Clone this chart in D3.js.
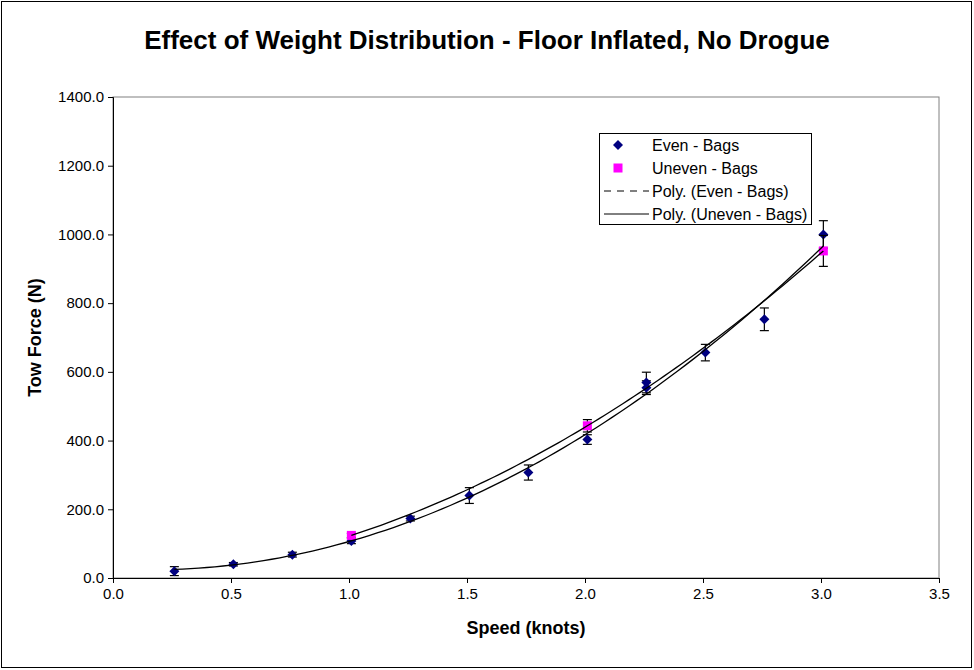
<!DOCTYPE html>
<html lang="en">
<head>
  <meta charset="UTF-8">
  <title>Effect of Weight Distribution - Floor Inflated, No Drogue</title>
  <script src="https://d3js.org/d3.v7.min.js"></script>
  <style>
    body { margin: 0; background: #fff; }
    svg { display: block; font-family: "Liberation Sans", Arial, sans-serif; }
  </style>
</head>
<body>
<svg id="chart" width="974" height="670"></svg>
<script>
  // Données
  const speedEven = [0.26, 0.51, 0.76, 1.01, 1.26, 1.51, 1.76, 2.01, 2.26, 2.26, 2.51, 2.76, 3.01];
  const forceEven = [20, 40, 68, 108, 173, 240, 307, 403, 569, 554, 656, 753, 1000];
  const errEven   = [13, 5, 7, 8, 7, 23, 22, 14, 30, 20, 24, 33, 40];

  const speedUneven = [1.01, 2.01, 3.01];
  const forceUneven = [124, 443, 952];
  const errUneven   = [6, 18, 45];

  const xTicks = [0, 0.5, 1, 1.5, 2, 2.5, 3, 3.5];
  const yTicks = [0, 200, 400, 600, 800, 1000, 1200, 1400];
  const legendLabels = ["Even - Bags", "Uneven - Bags", "Poly. (Even - Bags)", "Poly. (Uneven - Bags)"];

  const W = 974, H = 670;
  const plot = {left: 113, top: 97, right: 939, bottom: 578};

  const svg = d3.select("#chart");

  // cadre extérieur
  svg.append("rect")
     .attr("x", 1.5).attr("y", 1.5)
     .attr("width", W - 4).attr("height", H - 4)
     .attr("fill", "#fff").attr("stroke", "#000").attr("stroke-width", 1);

  svg.append("text")
     .attr("x", 487).attr("y", 49)
     .attr("text-anchor", "middle")
     .attr("font-size", 26).attr("font-weight", "bold")
     .text("Effect of Weight Distribution - Floor Inflated, No Drogue");

  const x = d3.scaleLinear().domain([0, 3.5]).range([plot.left, plot.right]);
  const y = d3.scaleLinear().domain([0, 1400]).range([plot.bottom, plot.top]);

  // bordure grise de la zone de tracé
  svg.append("rect")
     .attr("x", plot.left).attr("y", plot.top)
     .attr("width", plot.right - plot.left).attr("height", plot.bottom - plot.top)
     .attr("fill", "none").attr("stroke", "#808080").attr("stroke-width", 1);

  const xAxis = svg.append("g")
     .attr("transform", `translate(0,${plot.bottom})`)
     .call(d3.axisBottom(x).tickValues(xTicks).tickFormat(d3.format(".1f")).tickSizeOuter(0).tickSize(5).tickPadding(5));
  const yAxis = svg.append("g")
     .attr("transform", `translate(${plot.left},0)`)
     .call(d3.axisLeft(y).tickValues(yTicks).tickFormat(d3.format(".1f")).tickSizeOuter(0).tickSize(5).tickPadding(4));

  [xAxis, yAxis].forEach(g => {
    g.selectAll("text").attr("font-size", 15).attr("fill", "#000")
     .attr("font-family", "'Liberation Sans', Arial, sans-serif");
    g.selectAll("line, path").attr("stroke", "#000");
  });

  svg.append("text")
     .attr("x", (plot.left + plot.right) / 2).attr("y", 634)
     .attr("text-anchor", "middle")
     .attr("font-size", 18).attr("font-weight", "bold")
     .text("Speed (knots)");

  svg.append("text")
     .attr("transform", `translate(41,${(plot.top + plot.bottom) / 2}) rotate(-90)`)
     .attr("text-anchor", "middle")
     .attr("font-size", 18).attr("font-weight", "bold")
     .text("Tow Force (N)");

  // régression polynomiale d'ordre 2 (comme la courbe de tendance Excel)
  function polyfit2(xs, ys) {
    let s = [0, 0, 0, 0, 0], t = [0, 0, 0];
    xs.forEach((xv, i) => {
      for (let k = 0; k < 5; k++) s[k] += Math.pow(xv, k);
      for (let k = 0; k < 3; k++) t[k] += ys[i] * Math.pow(xv, k);
    });
    const A = [[s[0], s[1], s[2], t[0]], [s[1], s[2], s[3], t[1]], [s[2], s[3], s[4], t[2]]];
    for (let i = 0; i < 3; i++) {
      for (let j = i + 1; j < 3; j++) {
        const f = A[j][i] / A[i][i];
        for (let k = i; k < 4; k++) A[j][k] -= f * A[i][k];
      }
    }
    const c = [0, 0, 0];
    for (let i = 2; i >= 0; i--) {
      let v = A[i][3];
      for (let k = i + 1; k < 3; k++) v -= A[i][k] * c[k];
      c[i] = v / A[i][i];
    }
    return xv => c[0] + c[1] * xv + c[2] * xv * xv;
  }

  function trendPath(xs, ys) {
    const f = polyfit2(xs, ys);
    const x0 = d3.min(xs), x1 = d3.max(xs);
    const pts = d3.range(0, 81).map(i => x0 + (x1 - x0) * i / 80);
    return d3.line().x(d => x(d)).y(d => y(f(d)))(pts);
  }

  const evenRows = speedEven.map((s, i) => ({s, f: forceEven[i], e: errEven[i]}));
  const unevenRows = speedUneven.map((s, i) => ({s, f: forceUneven[i], e: errUneven[i]}));

  function errorBars(rows) {
    const g = svg.append("g").attr("stroke", "#000").attr("stroke-width", 1.2);
    rows.forEach(d => {
      g.append("line").attr("x1", x(d.s)).attr("x2", x(d.s)).attr("y1", y(d.f - d.e)).attr("y2", y(d.f + d.e));
      [d.f - d.e, d.f + d.e].forEach(v => {
        g.append("line").attr("x1", x(d.s) - 4.5).attr("x2", x(d.s) + 4.5).attr("y1", y(v)).attr("y2", y(v));
      });
    });
  }

  // losange carré (marqueur Excel)
  const diamond = "M0,-5L5,0L0,5L-5,0Z";

  errorBars(evenRows);
  svg.append("g").selectAll("path")
     .data(evenRows).join("path")
     .attr("transform", d => `translate(${x(d.s)},${y(d.f)})`)
     .attr("d", diamond)
     .attr("fill", "#000080");

  errorBars(unevenRows);
  svg.append("g").selectAll("rect")
     .data(unevenRows).join("rect")
     .attr("x", d => x(d.s) - 4.5).attr("y", d => y(d.f) - 4.5)
     .attr("width", 9).attr("height", 9)
     .attr("fill", "#ff00ff");

  svg.append("path").attr("d", trendPath(speedEven, forceEven))
     .attr("fill", "none").attr("stroke", "#000").attr("stroke-width", 1.3);
  svg.append("path").attr("d", trendPath(speedUneven, forceUneven))
     .attr("fill", "none").attr("stroke", "#000").attr("stroke-width", 1.3);

  // légende
  const lg = {x: 599, y: 133, w: 212, h: 91, row: 23};
  const legend = svg.append("g");
  legend.append("rect")
     .attr("x", lg.x + 0.5).attr("y", lg.y + 0.5).attr("width", lg.w).attr("height", lg.h)
     .attr("fill", "#fff").attr("stroke", "#000");
  legendLabels.forEach((label, i) => {
    const cy = lg.y + 12 + i * lg.row;
    if (i === 0) {
      legend.append("path").attr("transform", `translate(${lg.x + 19},${cy})`)
            .attr("d", diamond).attr("fill", "#000080");
    } else if (i === 1) {
      legend.append("rect").attr("x", lg.x + 14.5).attr("y", cy - 4.5)
            .attr("width", 9).attr("height", 9).attr("fill", "#ff00ff");
    } else {
      legend.append("line").attr("x1", lg.x + 5).attr("x2", lg.x + 50)
            .attr("y1", cy).attr("y2", cy).attr("stroke", "#000")
            .attr("stroke-dasharray", i === 2 ? "7,6" : null);
    }
    legend.append("text")
          .attr("x", lg.x + 53).attr("y", cy + 5.5)
          .attr("font-size", 16)
          .text(label);
  });
</script>
</body>
</html>
